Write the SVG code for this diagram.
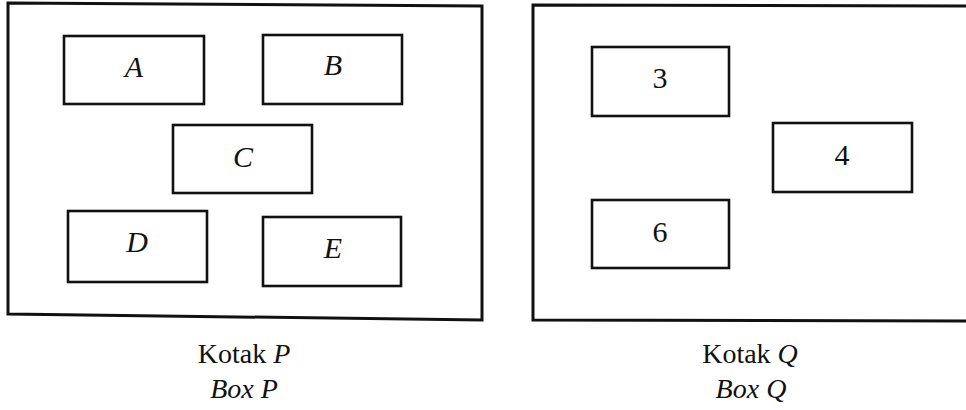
<svg xmlns="http://www.w3.org/2000/svg" width="966" height="410" viewBox="0 0 966 410">
<style>
.outer{fill:none;stroke:#111;stroke-width:3}
.node{fill:#fff;stroke:#111;stroke-width:2.6}
.lbl{font-family:"Liberation Serif","Times New Roman",serif;font-size:30px;fill:#111;text-anchor:middle}
.it{font-style:italic}
.cap{font-family:"Liberation Serif","Times New Roman",serif;font-size:28px;fill:#111;text-anchor:middle}
</style>
<rect width="966" height="410" fill="#fff"/>
<g id="boxP">
<polygon class="outer" points="8,3 482,6 482,320 8,314"/>
</g>
<g id="boxQ">
<polygon class="outer" points="533,5 970,6 970,321 533,320"/>
</g>
<g id="connectors"></g>
<g id="nodeA"><rect class="node" x="64" y="36" width="140" height="68"/><text class="lbl it" x="134" y="77">A</text></g>
<g id="nodeB"><rect class="node" x="263" y="35" width="139" height="69"/><text class="lbl it" x="333" y="75">B</text></g>
<g id="nodeC"><rect class="node" x="173" y="125" width="139" height="68"/><text class="lbl it" x="243" y="167">C</text></g>
<g id="nodeD"><rect class="node" x="68" y="211" width="139" height="71"/><text class="lbl it" x="137" y="252">D</text></g>
<g id="nodeE"><rect class="node" x="263" y="217" width="138" height="69"/><text class="lbl it" x="333" y="258">E</text></g>
<g id="node3"><rect class="node" x="592" y="47" width="137" height="69"/><text class="lbl" x="660" y="88">3</text></g>
<g id="node4"><rect class="node" x="773" y="123" width="139" height="69"/><text class="lbl" x="842" y="165">4</text></g>
<g id="node6"><rect class="node" x="592" y="200" width="137" height="68"/><text class="lbl" x="660" y="242">6</text></g>
<g id="captionP">
<text class="cap" x="244" y="363">Kotak <tspan class="it">P</tspan></text>
<text class="cap it" x="244" y="398">Box P</text>
</g>
<g id="captionQ">
<text class="cap" x="750" y="363">Kotak <tspan class="it">Q</tspan></text>
<text class="cap it" x="751" y="398">Box Q</text>
</g>
</svg>
